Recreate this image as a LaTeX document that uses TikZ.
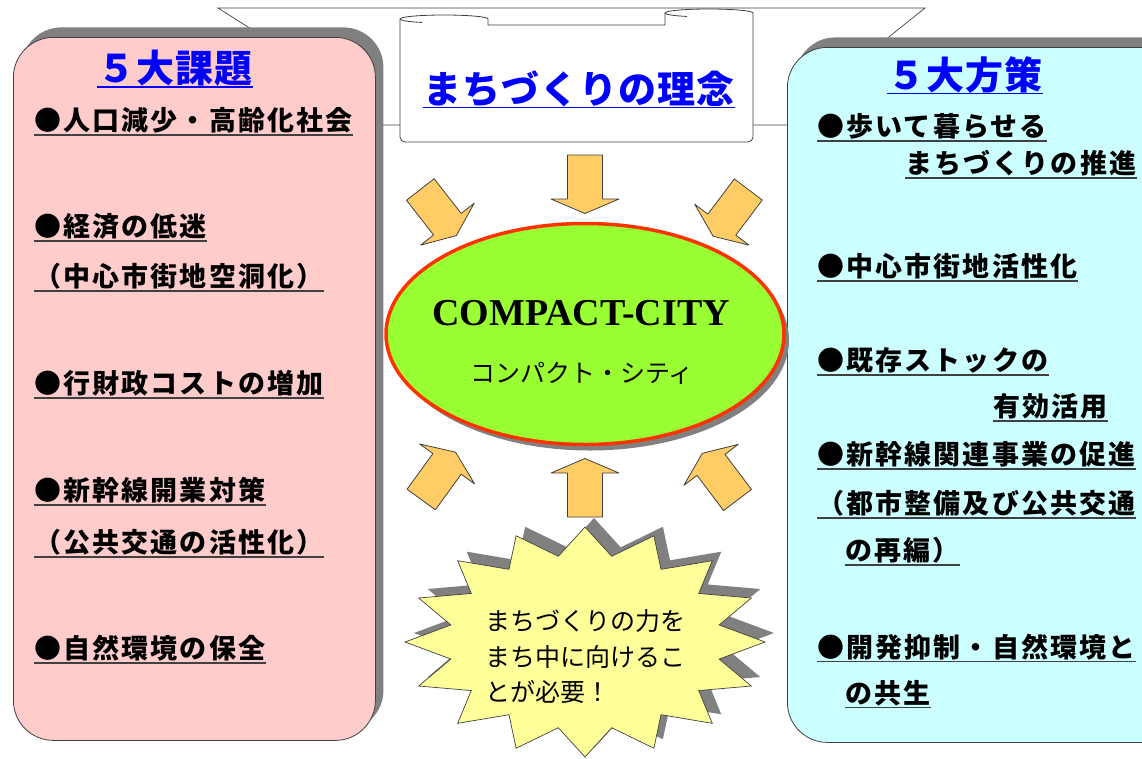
\documentclass[tikz,border=0pt]{standalone}
\usepackage{fontspec}
\setmainfont{Liberation Serif}
\newfontfamily\jp{Noto Sans CJK JP}
\usepackage{tikz}
\usetikzlibrary{shapes.geometric,shadows}

\definecolor{kadaipink}{HTML}{FFCCCC}
\definecolor{housakucyan}{HTML}{CCFFFF}
\definecolor{citygreen}{HTML}{99FF33}
\definecolor{cityred}{HTML}{FF3300}
\definecolor{arroworange}{HTML}{FFCC66}
\definecolor{burstyellow}{HTML}{FFFF99}
\definecolor{shade}{HTML}{808080}
\definecolor{edgegray}{HTML}{404040}

\begin{document}
\begin{tikzpicture}[x=1pt, y=-1pt,
    box/.style={rectangle, rounded corners=40, draw=edgegray, line width=0.8pt, anchor=north west, inner sep=0pt,
      drop shadow={shadow xshift=8pt, shadow yshift=10pt, fill=shade, opacity=1}},
    item/.style={anchor=base west, inner sep=0pt,
      font=\jp\bfseries\fontsize{27}{30}\selectfont\addfontfeature{LetterSpace=8},
      append after command={([yshift=-4.5pt]\tikzlastnode.base west) edge[line width=1.2pt, edgegray] ([yshift=-4.5pt]\tikzlastnode.base east)}},
    title/.style={anchor=base, inner sep=0pt, text=blue,
      font=\jp\bfseries\fontsize{38}{40}\selectfont\addfontfeature{LetterSpace=3},
      append after command={([yshift=-4.5pt]\tikzlastnode.base west) edge[line width=1.8pt, blue] ([yshift=-4.5pt]\tikzlastnode.base east)}},
    arrowbody/.style={fill=arroworange, draw=edgegray, line width=0.8pt, line join=round},
    pics/blockarrow/.style={code={
      \draw[arrowbody] (0,-17.5) -- (44,-17.5) -- (44,-34) -- (58.5,0) -- (44,34) -- (44,17.5) -- (0,17.5) -- cycle;}}
  ]
  \useasboundingbox (0,0) rectangle (1142,758);
  \clip (0,0) rectangle (1142,758);

  % banner behind the three top parts
  \draw[edgegray, fill=white, line width=0.7pt] (218,8) -- (925,8) -- (860,60) -- (860,125) -- (300,125) -- (300,60) -- cycle;

  \node[box, fill=kadaipink, minimum width=362, minimum height=703] (kadai) at (13,37) {};
  \node[box, fill=housakucyan, minimum width=400, minimum height=695] (housaku) at (787,47) {};

  % scroll
  \filldraw[fill=white, draw=edgegray, line width=0.8pt] (400,142) -- (400,19)
    arc[start angle=180, end angle=360, x radius=44, y radius=4] -- (488,25) -- (665,25) -- (665,13)
    arc[start angle=180, end angle=360, x radius=44, y radius=4] [rounded corners=5] -- (753,142) -- cycle;
  \draw[edgegray, line width=0.8pt] (400,19) arc[start angle=180, end angle=120, x radius=44, y radius=4];
  \draw[edgegray, line width=0.8pt] (665,13) arc[start angle=180, end angle=120, x radius=44, y radius=4];
  \node[title] (rinen) at (579,103) {まちづくりの理念};

  \foreach \x/\y/\a in {585/155/-90, 420.3/189.5/-52, 748.3/189.5/-127, 421.2/499.5/54, 737.5/500/127, 585/517/90} {
    \pic[rotate=\a] at (\x,\y) {blockarrow};
  }

  \node[ellipse, fill=citygreen, draw=cityred, line width=3.5pt, minimum width=398, minimum height=221, inner sep=0pt,
    drop shadow={shadow xshift=5pt, shadow yshift=-6pt, fill=shade, opacity=1}] (city) at (585,334) {};
  \node[anchor=base, inner sep=0pt, font=\bfseries\fontsize{38}{40}\selectfont] (cityen) at (581,325) {COMPACT-CITY};
  \node[anchor=base, inner sep=0pt, font=\jp\fontsize{25}{26}\selectfont] (cityjp) at (582,382) {コンパクト・シティ};

  \draw[fill=burstyellow, draw=edgegray, line width=0.7pt, line join=miter,
    drop shadow={shadow xshift=9pt, shadow yshift=9pt, fill=shade, opacity=1}]
    (585,527) \foreach \k in {1,...,31} {
      -- ({585+180*(0.88+0.12*cos(180*\k))*cos(90+11.25*\k)}, {642-115*(0.88+0.12*cos(180*\k))*sin(90+11.25*\k)})
    } -- cycle;
  \node[anchor=west, inner sep=0pt, align=left, font=\jp\fontsize{25}{35.5}\selectfont] (burst) at (485,657)
    {まちづくりの力を\\まち中に向けるこ\\とが必要！};

  \node[title] (kadaititle) at (175,82.5) {５大課題};
  \foreach [count=\i] \y/\t in {130.5/●人口減少・高齢化社会, 236.5/●経済の低迷, 286.5/（中心市街地空洞化）,
      393.5/●行財政コストの増加, 500.5/●新幹線開業対策, 552.5/（公共交通の活性化）, 658.5/●自然環境の保全} {
    \node[item] (kadai\i) at (34,\y) {\t};
  }

  \node[title] (housakutitle) at (965,89) {５大方策};
  \foreach [count=\i] \x/\y/\t in {817/136.5/●歩いて暮らせる, 905/173.5/まちづくりの推進, 817/276.5/●中心市街地活性化,
      817/370.5/●既存ストックの, 993/416.5/有効活用, 817/464.5/●新幹線関連事業の促進, 817/513.5/（都市整備及び公共交通,
      845/560.5/の再編）, 817/657/●開発抑制・自然環境と, 845/703/の共生} {
    \node[item] (housaku\i) at (\x,\y) {\t};
  }
\end{tikzpicture}
\end{document}
